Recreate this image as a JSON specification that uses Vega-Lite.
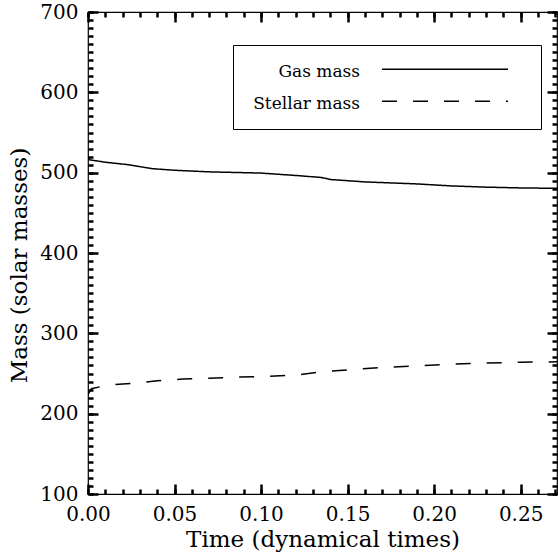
{
  "$schema": "https://vega.github.io/schema/vega-lite/v6.json",
  "width": 469,
  "height": 482,
  "autosize": {"type": "none"},
  "padding": {"left": 88, "top": 12, "right": 1, "bottom": 62},
  "background": "white",
  "config": {
    "view": {"stroke": "black", "strokeWidth": 1.2},
    "font": "DejaVu Serif",
    "axis": {"domain": true, "domainOpacity": 0, "grid": false, "labelColor": "black", "titleColor": "black", "labelFont": "DejaVu Serif", "titleFont": "DejaVu Serif", "titleFontWeight": "normal"}
  },
  "data": {"values": [
    {"t": 0, "mass": 521, "series": "Gas mass"},
    {"t": 0.001, "mass": 516, "series": "Gas mass"},
    {"t": 0.01, "mass": 513, "series": "Gas mass"},
    {"t": 0.023, "mass": 510, "series": "Gas mass"},
    {"t": 0.037, "mass": 505, "series": "Gas mass"},
    {"t": 0.05, "mass": 503, "series": "Gas mass"},
    {"t": 0.07, "mass": 501, "series": "Gas mass"},
    {"t": 0.1, "mass": 499.5, "series": "Gas mass"},
    {"t": 0.12, "mass": 496.5, "series": "Gas mass"},
    {"t": 0.135, "mass": 494, "series": "Gas mass"},
    {"t": 0.14, "mass": 491.5, "series": "Gas mass"},
    {"t": 0.16, "mass": 488.5, "series": "Gas mass"},
    {"t": 0.19, "mass": 486, "series": "Gas mass"},
    {"t": 0.21, "mass": 483.5, "series": "Gas mass"},
    {"t": 0.23, "mass": 482, "series": "Gas mass"},
    {"t": 0.25, "mass": 481, "series": "Gas mass"},
    {"t": 0.271, "mass": 480.5, "series": "Gas mass"},
    {"t": 0, "mass": 224, "series": "Stellar mass"},
    {"t": 0.002, "mass": 231, "series": "Stellar mass"},
    {"t": 0.01, "mass": 235, "series": "Stellar mass"},
    {"t": 0.02, "mass": 237, "series": "Stellar mass"},
    {"t": 0.03, "mass": 238.5, "series": "Stellar mass"},
    {"t": 0.04, "mass": 241, "series": "Stellar mass"},
    {"t": 0.055, "mass": 243, "series": "Stellar mass"},
    {"t": 0.07, "mass": 244, "series": "Stellar mass"},
    {"t": 0.085, "mass": 245.5, "series": "Stellar mass"},
    {"t": 0.1, "mass": 246, "series": "Stellar mass"},
    {"t": 0.12, "mass": 248, "series": "Stellar mass"},
    {"t": 0.135, "mass": 252, "series": "Stellar mass"},
    {"t": 0.15, "mass": 254.5, "series": "Stellar mass"},
    {"t": 0.17, "mass": 257.5, "series": "Stellar mass"},
    {"t": 0.19, "mass": 259.5, "series": "Stellar mass"},
    {"t": 0.21, "mass": 261.5, "series": "Stellar mass"},
    {"t": 0.23, "mass": 263, "series": "Stellar mass"},
    {"t": 0.25, "mass": 264, "series": "Stellar mass"},
    {"t": 0.271, "mass": 264.5, "series": "Stellar mass"}
  ]},
  "resolve": {"axis": {"x": "independent", "y": "independent"}},
  "layer": [
    {
      "mark": {"type": "line", "color": "black", "strokeWidth": 1.5, "clip": true},
      "encoding": {
        "x": {"field": "t", "type": "quantitative", "scale": {"domain": [0, 0.271], "nice": false, "zero": false},
          "axis": {"orient": "bottom", "offset": -10, "tickCount": 6, "format": ".2f", "ticks": true, "tickColor": "black", "tickWidth": 2.5, "tickSize": 10, "labelFontSize": 20, "labelPadding": 10, "labelFlush": false, "labelOverlap": false, "title": "Time (dynamical times)", "titleFontSize": 23, "titlePadding": 4}},
        "y": {"field": "mass", "type": "quantitative", "scale": {"domain": [100, 700], "nice": false, "zero": false},
          "axis": {"orient": "left", "offset": -10, "tickCount": 7, "format": "d", "ticks": true, "tickColor": "black", "tickWidth": 2.5, "tickSize": 10, "labelFontSize": 20, "labelPadding": 10, "labelFlush": false, "labelOverlap": false, "title": "Mass (solar masses)", "titleFontSize": 23, "titlePadding": 8, "titleY": 253}},
        "strokeDash": {"field": "series", "type": "nominal",
          "scale": {"domain": ["Gas mass", "Stellar mass"], "range": [[1, 0], [15, 16]]},
          "legend": {"orient": "none", "legendX": 145, "legendY": 33, "title": null, "symbolType": "M-7,-0.3H7M8.4,0", "symbolSize": 324, "symbolStrokeWidth": 1.5, "symbolStrokeColor": "black", "symbolOffset": 185, "labelAlign": "right", "labelOffset": -95, "labelFont": "DejaVu Serif", "labelFontSize": 17, "labelColor": "black", "strokeColor": "black", "padding": 17, "rowPadding": 14, "labelLimit": 300}}
      }
    },
    {
      "mark": {"type": "point", "opacity": 0},
      "encoding": {
        "x": {"field": "t", "type": "quantitative", "axis": {"orient": "bottom", "offset": -5, "tickCount": 27, "ticks": true, "tickColor": "black", "tickWidth": 2.5, "tickSize": 5, "labels": false, "title": null}},
        "y": {"field": "mass", "type": "quantitative", "axis": {"orient": "left", "offset": -5, "tickCount": 60, "ticks": true, "tickColor": "black", "tickWidth": 2.5, "tickSize": 5, "labels": false, "title": null}}
      }
    },
    {
      "mark": {"type": "point", "opacity": 0},
      "encoding": {
        "x": {"field": "t", "type": "quantitative", "axis": {"orient": "top", "offset": -10, "tickCount": 6, "ticks": true, "tickColor": "black", "tickWidth": 2.5, "tickSize": 10, "labels": false, "title": null}},
        "y": {"field": "mass", "type": "quantitative", "axis": {"orient": "right", "offset": -10, "tickCount": 7, "ticks": true, "tickColor": "black", "tickWidth": 2.5, "tickSize": 10, "labels": false, "title": null}}
      }
    },
    {
      "mark": {"type": "point", "opacity": 0},
      "encoding": {
        "x": {"field": "t", "type": "quantitative", "axis": {"orient": "top", "offset": -5, "tickCount": 27, "ticks": true, "tickColor": "black", "tickWidth": 2.5, "tickSize": 5, "labels": false, "title": null}},
        "y": {"field": "mass", "type": "quantitative", "axis": {"orient": "right", "offset": -5, "tickCount": 60, "ticks": true, "tickColor": "black", "tickWidth": 2.5, "tickSize": 5, "labels": false, "title": null}}
      }
    }
  ]
}
